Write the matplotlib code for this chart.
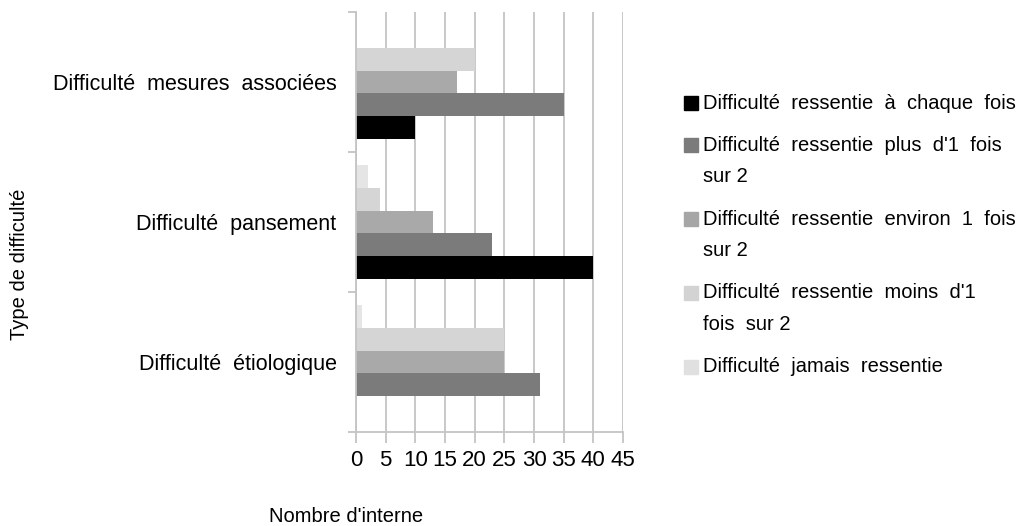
import numpy as np
import matplotlib
matplotlib.use('Agg')
import matplotlib.pyplot as plt
from matplotlib.patches import Rectangle
from matplotlib import font_manager

installed = {f.name for f in font_manager.fontManager.ttflist}
narrow = 'Liberation Sans Narrow' in installed
print('narrow font:', narrow)
plt.rcParams['font.family'] = ['Liberation Sans', 'DejaVu Sans']
leg_font = ['Liberation Sans Narrow', 'Liberation Sans'] if narrow else ['Liberation Sans']

# categories from bottom to top
categories = ['Difficulté  étiologique', 'Difficulté  pansement', 'Difficulté  mesures  associées']

series_labels = [
    "Difficulté  ressentie  à  chaque  fois",
    "Difficulté  ressentie  plus  d'1  fois\nsur 2",
    "Difficulté  ressentie  environ  1  fois\nsur 2",
    "Difficulté  ressentie  moins  d'1\nfois  sur 2",
    "Difficulté  jamais  ressentie",
]
series_colors = ['#000000', '#7b7b7b', '#a9a9a9', '#d5d5d5', '#e5e5e5']
legend_colors = ['#000000', '#7b7b7b', '#a6a6a6', '#d3d3d3', '#e0e0e0']

chaque_fois = [0, 40, 10]
plus_1_sur_2 = [31, 23, 35]
environ_1_sur_2 = [25, 13, 17]
moins_1_sur_2 = [25, 4, 20]
jamais = [1, 2, 0]
series_values = [chaque_fois, plus_1_sur_2, environ_1_sur_2, moins_1_sur_2, jamais]

x_ticks = list(range(0, 50, 5))

grid_color = '#c4c4c4'

fig = plt.figure(figsize=(10.25, 5.26), dpi=100)
ax = fig.add_axes([356 / 1025, 1 - 432 / 526, 267 / 1025, 420 / 526])

y = np.arange(len(categories))
bar_h = 0.164
for i, (vals, col) in enumerate(zip(series_values, series_colors)):
    ax.barh(y + (i - 2) * bar_h, vals, height=bar_h, color=col, edgecolor='none', zorder=2)

ax.set_xlim(0, 45)
ax.set_ylim(-0.5, 2.5)
ax.set_xticks(x_ticks)
ax.set_xticklabels([str(t) for t in x_ticks], fontsize=16)
ax.xaxis.grid(True, color=grid_color, linewidth=1.3)
ax.set_axisbelow(True)

# category boundaries as major ticks, names as minor ticks
ax.set_yticks([-0.5, 0.5, 1.5, 2.5])
ax.set_yticklabels([])
ax.set_yticks(y, categories, minor=True)
ax.tick_params(axis='y', which='major', length=6, width=1.3, color=grid_color)
ax.tick_params(axis='y', which='minor', length=0, pad=14, labelsize=15.5)
ax.tick_params(axis='x', length=8, width=1.3, color=grid_color, pad=5)

for s in ['top', 'right']:
    ax.spines[s].set_visible(False)
for s in ['left', 'bottom']:
    ax.spines[s].set_color(grid_color)
    ax.spines[s].set_linewidth(1.3)

fig.text(346 / 1025, 1 - 517 / 526, "Nombre d'interne", ha='center', va='center', fontsize=14.5)
fig.text(20 / 1025, 1 - 264 / 526, 'Type de difficulté', ha='center', va='center',
         rotation=90, fontsize=14.5)

# legend drawn by hand so the square sits on the first line
leg_size = 18 if narrow else 14.5
line_step = 32 / 526
item_gap = 10 / 526
cur = 1 - 103 / 526
for lab, col in zip(series_labels, legend_colors):
    lines = lab.split('\n')
    fig.add_artist(Rectangle((684 / 1025, cur - 7 / 526), 14 / 1025, 14 / 526,
                             transform=fig.transFigure, color=col))
    for k, ln in enumerate(lines):
        fig.text(703 / 1025, cur - k * line_step, ln, ha='left', va='center',
                 fontsize=leg_size, family=leg_font)
    cur -= len(lines) * line_step + item_gap

fig.savefig('out.png', dpi=100)
